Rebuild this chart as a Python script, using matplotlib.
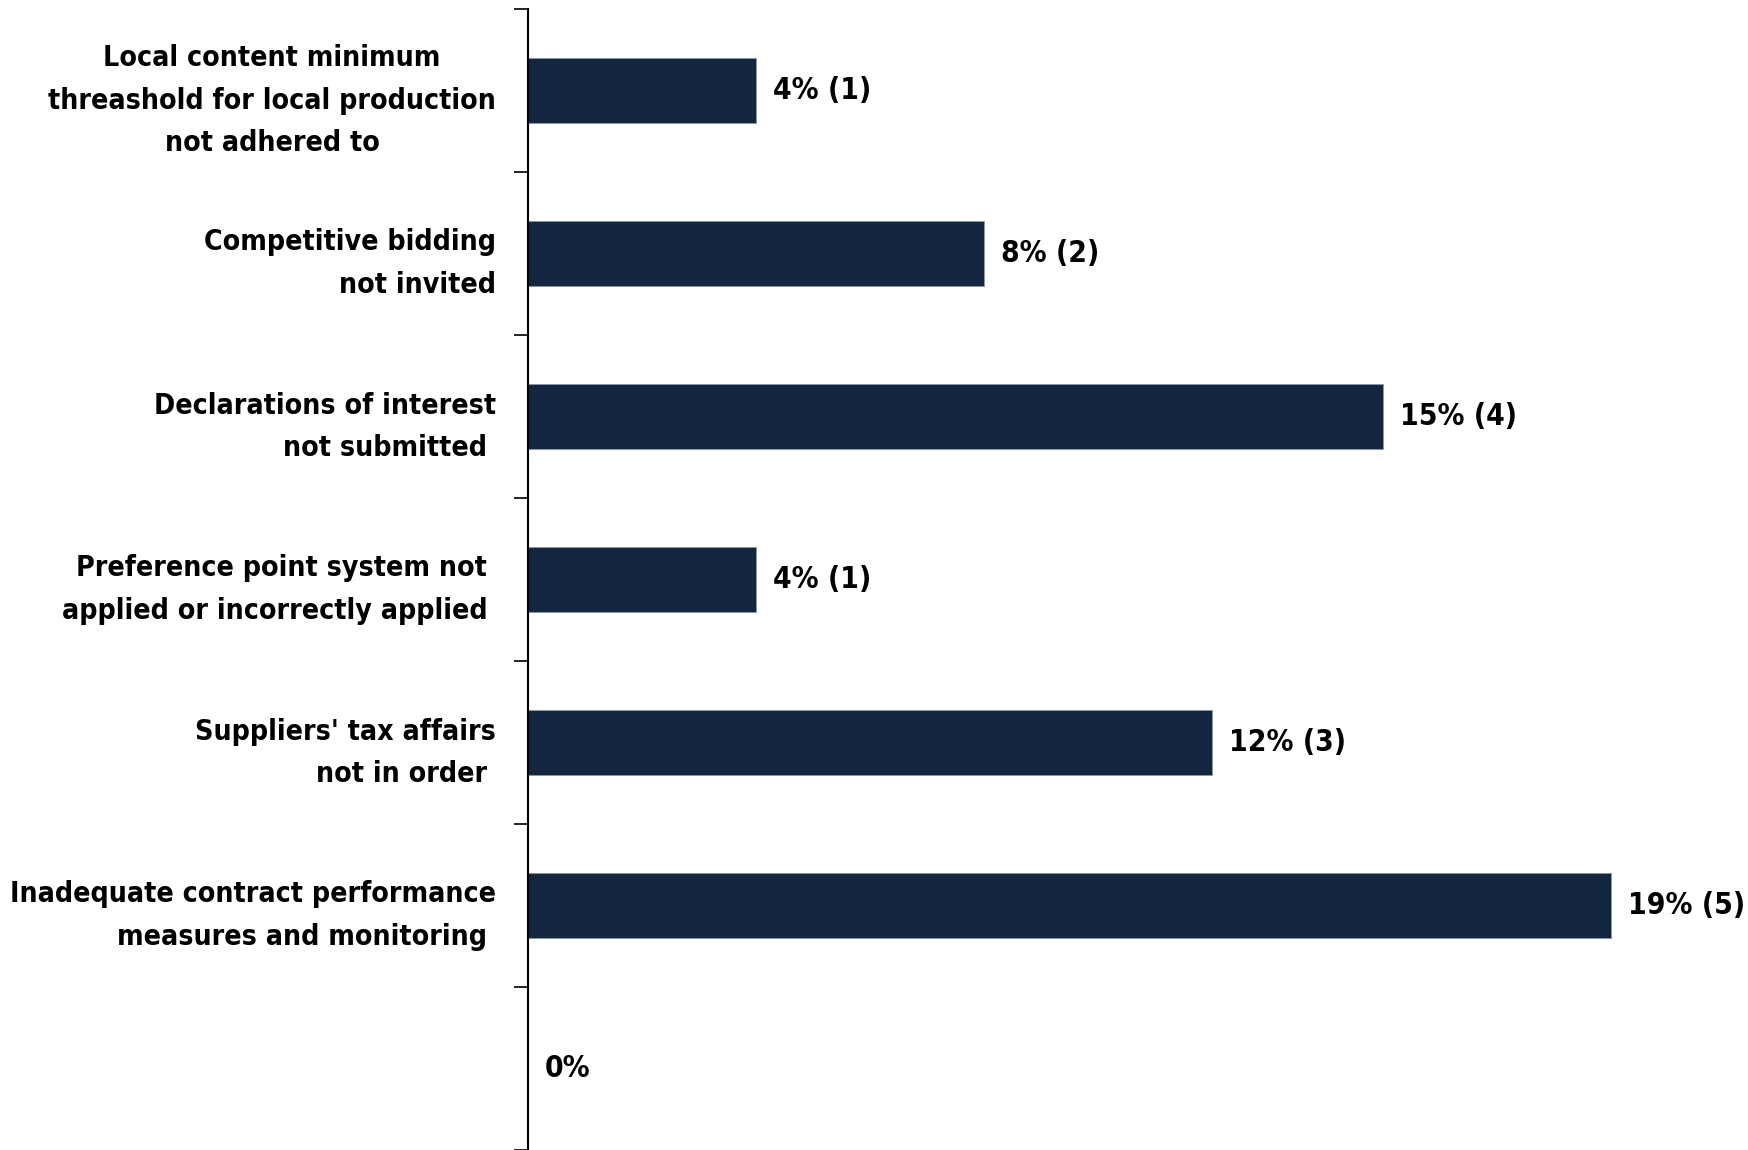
import matplotlib
matplotlib.use("Agg")
from matplotlib import pyplot as plt
from matplotlib.ticker import FixedLocator

categories = [
    "Local content minimum\nthreashold for local production\nnot adhered to",
    "Competitive bidding\nnot invited",
    "Declarations of interest\nnot submitted ",
    "Preference point system not \napplied or incorrectly applied ",
    "Suppliers' tax affairs\nnot in order ",
    "Inadequate contract performance\nmeasures and monitoring ",
    "",
]
pct = [4, 8, 15, 4, 12, 19, 0]
counts = [1, 2, 4, 1, 3, 5, None]

bar_color = "#13253F"
fsize = 20.4
plt.rcParams["font.family"] = ["DejaVu Sans"]
plt.rcParams["font.stretch"] = "condensed"
plt.rcParams["font.weight"] = "bold"

fig = plt.figure(figsize=(17.48, 11.5), dpi=100)
ax = fig.add_axes([528 / 1748, 0.0, 1 - 528 / 1748, 1 - 9 / 1150])

y = list(range(len(categories)))
ax.barh(y, pct, height=0.4, color=bar_color, edgecolor="#8a97a8", linewidth=0.6)

for yi, p, c in zip(y, pct, counts):
    txt = f"{p}% ({c})" if c is not None else f"{p}%"
    ax.annotate(txt, (p, yi), xytext=(12, 0), textcoords="offset points",
                ha="left", va="center", fontsize=21.5, fontweight="bold")

ax.set_xlim(0, 21.4)
ax.set_ylim(len(categories) - 0.5, -0.5)

ax.set_yticks(y)
ax.set_yticklabels(categories, fontsize=fsize, fontweight="bold", linespacing=1.65)
ax.get_yticklabels()[0].set_multialignment("center")
ax.yaxis.set_minor_locator(FixedLocator([i - 0.5 for i in range(len(categories) + 1)]))
ax.tick_params(axis="y", which="major", length=0, pad=23)
ax.tick_params(axis="y", which="minor", length=10, width=1.2, direction="out")

ax.set_xticks([])
for side in ["top", "right", "bottom"]:
    ax.spines[side].set_visible(False)
ax.spines["left"].set_linewidth(1.5)

plt.savefig("out.png", dpi=100)
